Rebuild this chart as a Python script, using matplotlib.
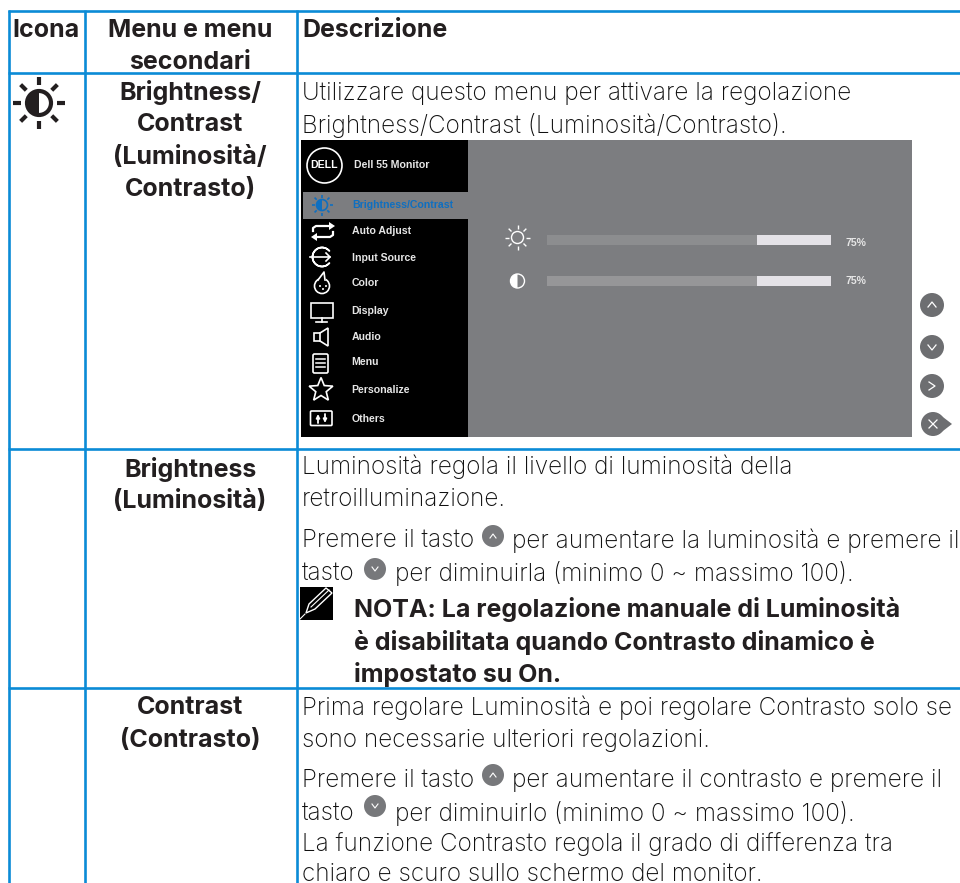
import matplotlib
matplotlib.use('Agg')
import matplotlib.pyplot as plt
from matplotlib.patches import Rectangle, Circle, Wedge, Polygon, FancyBboxPatch
import numpy as np

BLUE = '#0b8bd6'
INK = '#231f20'
BODY_FONT = 'Inter'
MENU_FONT = 'Liberation Sans'

# table text
header_labels = ['Icona', 'Menu e menu', 'secondari', 'Descrizione']
row_labels = ['Brightness/', 'Contrast', '(Luminosità/', 'Contrasto)',
              'Brightness', '(Luminosità)', 'Contrast', '(Contrasto)']
row_label_y = [90, 122, 155, 187, 467, 499, 705, 738]

body_lines = ['Utilizzare questo menu per attivare la regolazione',
              'Brightness/Contrast (Luminosità/Contrasto).',
              'Luminosità regola il livello di luminosità della',
              'retroilluminazione.',
              'Prima regolare Luminosità e poi regolare Contrasto solo se',
              'sono necessarie ulteriori regolazioni.',
              'La funzione Contrasto regola il grado di differenza tra',
              'chiaro e scuro sullo schermo del monitor.']
body_y = [91, 123, 464, 497, 705, 738, 842, 872]

note_lines = ['NOTA: La regolazione manuale di Luminosità',
              'è disabilitata quando Contrasto dinamico è',
              'impostato su On.']
note_y = [607, 640, 672]

# menu screenshot
menu_labels = ['Auto Adjust', 'Input Source', 'Color', 'Display', 'Audio',
               'Menu', 'Personalize', 'Others']
menu_y = [230, 257, 282, 310, 336, 361, 389, 418]
bar_values = [74, 74]
bar_labels = ['75%', '75%']


def txt(x, y, s, size=18.0, weight='normal', ha='left', color=INK, font=BODY_FONT):
    if font == BODY_FONT:
        y = y + 2.5
    else:
        y = y + 1
    ax.text(x, y, s, fontsize=size, fontweight=weight, ha=ha, va='center',
            color=color, family=font)


def light(x, y, s):
    txt(x, y, s, size=17.5, weight='light', color='#111111')


def sun(x, y, r, ray0, ray1, lw, color, half=True, face='none'):
    for a in np.arange(0, 360, 45):
        c, s = np.cos(np.radians(a)), np.sin(np.radians(a))
        ax.plot([x + ray0*c, x + ray1*c], [y + ray0*s, y + ray1*s], color=color, lw=lw,
                solid_capstyle='butt')
    ax.add_patch(Circle((x, y), r, fc=face, ec=color, lw=lw))
    if half:
        ax.add_patch(Wedge((x, y), r, 90, 270, fc=color, ec=color, lw=0))


def button(x, y, kind):
    ax.add_patch(Circle((x, y), 12, fc='#6d6e71', ec='none'))
    d = 4
    white = dict(color='white', lw=0.9)
    if kind == 'up':
        ax.plot([x-d, x, x+d], [y+2, y-3, y+2], **white)
    elif kind == 'down':
        ax.plot([x-d, x, x+d], [y-2, y+3, y-2], **white)
    elif kind == 'right':
        ax.plot([x-3, x+3, x-3], [y-4, y, y+4], **white)
    else:
        ax.add_patch(Polygon([(x+6, y-10), (x+19, y), (x+6, y+10)], fc='#6d6e71', ec='none'))
        ax.plot([x-4, x+4], [y-4, y+4], **white)
        ax.plot([x-4, x+4], [y+4, y-4], **white)


def small_button(x, y, kind):
    ax.add_patch(Circle((x, y), 11, fc='#77787b', ec='none'))
    dy = 1 if kind == 'up' else -1
    ax.plot([x-3, x, x+3], [y+dy*2, y-dy*2, y+dy*2], color='white', lw=0.8)


fig = plt.figure(figsize=(9.6, 8.83), dpi=100)
ax = fig.add_axes([0, 0, 1, 1])
ax.set_xlim(0, 960)
ax.set_ylim(883, 0)
ax.axis('off')

# grid
for x in [9, 84.5, 296.5]:
    ax.plot([x, x], [10, 883], color=BLUE, lw=1.9, solid_capstyle='butt')
for y in [10.7, 72.5, 448.5, 687.5]:
    ax.plot([8, 960], [y, y], color=BLUE, lw=1.9, solid_capstyle='butt')

# header
txt(46, 28, header_labels[0], weight='bold', ha='center')
txt(190, 28, header_labels[1], weight='bold', ha='center')
txt(190, 60, header_labels[2], weight='bold', ha='center')
txt(302, 28, header_labels[3], weight='bold')

for s, y in zip(row_labels, row_label_y):
    txt(190, y, s, weight='bold', ha='center')
for s, y in zip(body_lines, body_y):
    light(302, y, s)
for s, y in zip(note_lines, note_y):
    txt(354, y, s, weight='bold')

# lines with inline buttons
for top, up_y, down_y, tail_top, tail_bot in [
        (538, 536, 569, 'per aumentare la luminosità e premere il',
         'per diminuirla (minimo 0 ~ massimo 100).'),
        (778, 775, 806, 'per aumentare il contrasto e premere il',
         'per diminuirlo (minimo 0 ~ massimo 100).')]:
    light(302, top, 'Premere il tasto')
    small_button(493, up_y, 'up')
    light(512, top, tail_top)
    light(302, top + 33, 'tasto')
    small_button(375, down_y, 'down')
    light(395, top + 33, tail_bot)

# icon column
sun(39, 103, 12, 18, 26, 3, INK)

# note pencil
ax.add_patch(Rectangle((300, 587), 33, 33, fc='black', ec='none'))
ax.add_patch(Polygon([(306, 613), (309, 604), (326, 588), (332, 593), (315, 609)],
                     fc='none', ec='white', lw=1.0))
ax.plot([311, 329], [607, 590], color='white', lw=0.8)
ax.plot([305, 300], [614, 619], color='white', lw=0.8)

# on-screen menu
ax.add_patch(Rectangle((301, 140), 167, 297, fc='black', ec='none'))
ax.add_patch(Rectangle((468, 140), 444, 297, fc='#7c7d80', ec='none'))
ax.add_patch(Rectangle((303, 192), 165, 27, fc='#7c7d80', ec='none'))
ax.add_patch(Circle((324.5, 165.5), 17.5, fc='black', ec='white', lw=1.2))
txt(324.5, 164.5, 'DELL', size=7.6, weight='bold', ha='center', color='white', font=MENU_FONT)
txt(354, 164, 'Dell 55 Monitor', size=7.6, weight='bold', color='#e6e6e6', font=MENU_FONT)
txt(352, 204.5, 'Brightness/Contrast', size=7.55, weight='bold', color='#0f6fc0', font=MENU_FONT)
for s, y in zip(menu_labels, menu_y):
    txt(351.5, y, s, size=7.6, weight='bold', color='#e6e6e6', font=MENU_FONT)
sun(322, 205, 5.5, 7.5, 10.5, 1.2, '#0f6fc0')

icon_kw = dict(fc='none', ec='white', lw=1.2)
# auto adjust
ax.plot([313, 313, 316, 331], [231, 228, 226, 226], color='white', lw=1.6)
ax.add_patch(Polygon([(329, 222), (335, 226), (329, 230)], fc='white', ec='none'))
ax.plot([333, 333, 330, 315], [232, 235, 237, 237], color='white', lw=1.6)
ax.add_patch(Polygon([(317, 233), (311, 237), (317, 241)], fc='white', ec='none'))
# input source
ax.add_patch(Wedge((322, 257), 9.5, 40, 320, width=0.01, fc='none', ec='white', lw=1.2))
ax.plot([310, 330, 326], [257, 257, 253], color='white', lw=1.2)
ax.plot([330, 326], [257, 261], color='white', lw=1.2)
# color
ax.add_patch(Circle((322, 286), 7.5, **icon_kw))
ax.add_patch(Polygon([(318, 280), (324, 272), (326, 280)], fc='black', ec='none'))
ax.plot([318, 324, 325], [280, 272, 280], color='white', lw=1.2)
for dx, dy in [(320, 286), (323, 289), (326, 286)]:
    ax.add_patch(Circle((dx, dy), 1, fc='white', ec='none'))
# display
ax.add_patch(Rectangle((310.5, 302.5), 22, 15, **icon_kw))
ax.plot([321.5, 321.5], [318, 322], color='white', lw=1.2)
ax.plot([316, 327], [322, 322], color='white', lw=1.2)
# audio
ax.add_patch(Polygon([(314, 333), (320, 333), (328, 328), (328, 346), (320, 341), (314, 341)], **icon_kw))
ax.plot([320, 320], [333, 341], color='white', lw=1.2)
# menu
ax.add_patch(FancyBboxPatch((313, 354), 15, 19, boxstyle='round,pad=0,rounding_size=1.5', **icon_kw))
for y in [359, 363, 367]:
    ax.plot([316, 325], [y, y], color='white', lw=1.1)
# personalize
star_a = np.radians(np.arange(-90, 270, 36))
star_r = np.where(np.arange(10) % 2 == 0, 12.5, 5.5)
ax.add_patch(Polygon(np.column_stack([321 + star_r*np.cos(star_a), 390 + star_r*np.sin(star_a)]), **icon_kw))
# others
ax.add_patch(FancyBboxPatch((310.5, 411), 21.5, 14.5, boxstyle='round,pad=0,rounding_size=1', **icon_kw))
for x, y0, y1 in [(318, 423, 414), (325, 414, 423)]:
    ax.annotate('', xy=(x, y1), xytext=(x, y0),
                arrowprops=dict(arrowstyle='-|>', color='white', lw=1.3, mutation_scale=5,
                                shrinkA=0, shrinkB=0))

# sliders
bar_left, bar_w = 547, 284
for v, lab, y, base, lab_y in zip(bar_values, bar_labels, [235, 276], ['#8c8d8f', '#969698'], [241.5, 279.5]):
    ax.add_patch(Rectangle((bar_left, y), bar_w, 10, fc='#e4e2e7', ec='none'))
    ax.add_patch(Rectangle((bar_left, y), bar_w*v/100, 10, fc=base, ec='none'))
    txt(846, lab_y, lab, size=7.6, weight='bold', color='#e6e6e6', font=MENU_FONT)
sun(517.5, 237.5, 6, 8.5, 12.5, 1.0, 'white', half=False)
ax.add_patch(Circle((517.5, 281), 7, fc='#7c7d80', ec='white', lw=1.0))
ax.add_patch(Wedge((517.5, 281), 7, 90, 270, fc='white', ec='none'))

for y, k in zip([305, 347, 386], ['up', 'down', 'right']):
    button(932, y, k)
button(933, 424, 'close')

fig.savefig('out.png', dpi=100)
